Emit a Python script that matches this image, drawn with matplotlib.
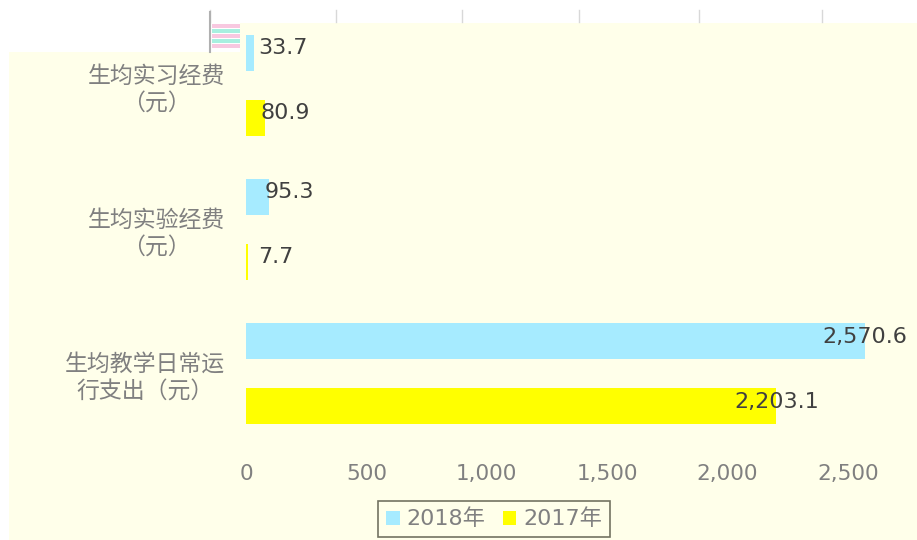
import matplotlib
matplotlib.use('Agg')
import matplotlib.pyplot as plt
from matplotlib.patches import Rectangle
import numpy as np

plt.rcParams['font.family'] = ['DejaVu Sans', 'Noto Sans CJK SC']

categories = ['生均实习经费\n（元）', '生均实验经费\n（元）', '生均教学日常运\n行支出（元）']
values_2018 = [33.7, 95.3, 2570.6]
values_2017 = [80.9, 7.7, 2203.1]
series_names = ['2018年', '2017年']
x_ticks = [0, 500, 1000, 1500, 2000, 2500]

CREAM = '#FFFFEA'
BLUE = '#A6EBFF'
YELLOW = '#FFFF00'

W, H = 917, 540
fig = plt.figure(figsize=(W / 100, H / 100), dpi=100)
fig.patch.set_facecolor('white')


def fig_rect(x0, y0, x1, y1, color, z=-5):
    # pixel box (top-left origin) -> figure fraction rectangle
    r = Rectangle((x0 / W, 1 - y1 / H), (x1 - x0) / W, (y1 - y0) / H,
                  transform=fig.transFigure, facecolor=color, edgecolor='none', zorder=z)
    fig.patches.append(r)


# cream background, with the cut-off white strip at the top
fig_rect(9, 52, W, H, CREAM)
fig_rect(240, 23, W, 53, CREAM)

# leftover bits of the chart above
for px in [210, 336, 462, 579, 699, 822]:
    fig.add_artist(plt.Line2D([px / W, px / W], [1 - 10 / H, 1 - 22 / H],
                              transform=fig.transFigure, color='#d8d8d8', lw=1))
fig.add_artist(plt.Line2D([210 / W, 210 / W], [1 - 12 / H, 1 - 52 / H],
                          transform=fig.transFigure, color='#b0b0b0', lw=1.5))
for i, c in enumerate(['#F8C8E0', '#A8F0E0', '#F8C8E0', '#A8F0E0', '#F8C8E0']):
    fig_rect(212, 24 + i * 5, 240, 28 + i * 5, c, z=1)

ax = fig.add_axes([246 / W, 1 - 445.5 / H, 650 / W, 432.5 / H])
ax.set_facecolor('none')

y = np.arange(len(categories))
off = 0.225
bh = 0.25
ax.barh(y - off, values_2018, height=bh, color=BLUE, label=series_names[0], zorder=2)
ax.barh(y + off, values_2017, height=bh, color=YELLOW, label=series_names[1], zorder=2)


def value_label(yy, v):
    # long bars get the label centred on the bar end, short ones just after it
    if v > 1000:
        ax.text(v, yy - 0.03, f'{v:,.1f}', va='center', ha='center', fontsize=16,
                color='#404040', zorder=3)
    else:
        ax.text(max(v - 20, 50), yy - 0.03, f'{v:,.1f}', va='center', ha='left',
                fontsize=16, color='#404040', zorder=3)


for yy, v in zip(y - off, values_2018):
    value_label(yy, v)
for yy, v in zip(y + off, values_2017):
    value_label(yy, v)

ax.set_xlim(0, 2700)
ax.set_ylim(len(categories) - 0.5, -0.5)
ax.set_xticks(x_ticks)
ax.set_xticklabels([f'{t:,}' for t in x_ticks])
ax.set_yticks(y)
ax.set_yticklabels(categories, multialignment='center', linespacing=1.2)
ax.tick_params(axis='x', length=0, pad=13, labelsize=15.5, labelcolor='#808080')
ax.tick_params(axis='y', length=0, pad=15, labelsize=16.5, labelcolor='#808080')
for s in ax.spines.values():
    s.set_visible(False)

leg = fig.legend(loc='center', bbox_to_anchor=(494 / W, 1 - 519 / H), ncol=2,
                 fontsize=16, frameon=True, fancybox=False, handlelength=0.6,
                 handleheight=0.6, handletextpad=0.3, columnspacing=0.8,
                 borderpad=0.35, labelcolor='#808080')
leg.get_frame().set_edgecolor('#505040')
leg.get_frame().set_facecolor(CREAM)
leg.get_frame().set_linewidth(1.2)

fig.savefig('out.png', dpi=100, facecolor=fig.get_facecolor())
